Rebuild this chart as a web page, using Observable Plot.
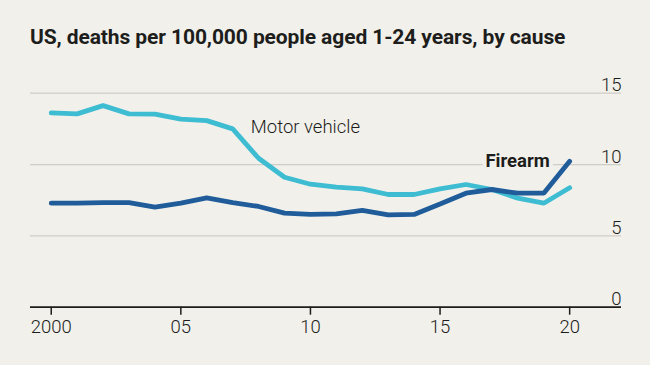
<!DOCTYPE html>
<html>
<head>
<meta charset="utf-8">
<script src="https://cdn.jsdelivr.net/npm/d3@7"></script>
<script src="https://cdn.jsdelivr.net/npm/@observablehq/plot@0.6"></script>
<style>
  html, body { margin: 0; padding: 0; background: #f1f0eb; width: 650px; height: 365px; overflow: hidden; }
  #title { height: 62px; box-sizing: border-box; padding: 26px 0 0 30px; margin: 0;
    font-family: Roboto, sans-serif; font-weight: 700; font-size: 21px; color: #1d1d1b; letter-spacing: -0.1px; line-height: 22px; }
  #chart svg { display: block; }
</style>
</head>
<body>
<div id="title">US, deaths per 100,000 people aged 1-24 years, by cause</div>
<div id="chart"></div>
<script>
const years = d3.range(2000, 2021);
const motorVehicle = [13.62, 13.55, 14.13, 13.55, 13.53, 13.18, 13.08, 12.5, 10.44, 9.11, 8.62, 8.41, 8.3, 7.9, 7.9, 8.3, 8.6, 8.25, 7.64, 7.29, 8.37];
const firearm = [7.29, 7.29, 7.33, 7.33, 7.01, 7.3, 7.66, 7.33, 7.06, 6.59, 6.5, 6.54, 6.78, 6.47, 6.5, 7.24, 7.99, 8.25, 7.99, 7.99, 10.23];
const xTicks = [2000, 2005, 2010, 2015, 2020];
const xTickLabels = ["2000", "05", "10", "15", "20"];
const yTicks = [0, 5, 10, 15];
const seriesNames = ["Motor vehicle", "Firearm"];

const data = [];
years.forEach((yr, i) => {
  data.push({year: yr, value: motorVehicle[i], cause: seriesNames[0]});
  data.push({year: yr, value: firearm[i], cause: seriesNames[1]});
});

const labels = [
  {text: "Motor vehicle", year: 2007.7, value: 12.6, bold: false},
  {text: "Firearm", year: 2016.75, value: 10.25, bold: true}
];

const bg = "#f1f0eb";
const colors = {"Motor vehicle": "#3ebcd2", "Firearm": "#1f5c99"};

const plot = Plot.plot({
  width: 650,
  height: 303,
  marginLeft: 30,
  marginRight: 29,
  marginTop: 30.7,
  marginBottom: 58.3,
  style: {background: bg, fontFamily: "Roboto, sans-serif", color: "#1d1d1b"},
  x: {domain: [1999.2, 2022], axis: null},
  y: {domain: [0, 15], axis: null},
  marks: [
    Plot.ruleY(yTicks.filter(d => d > 0), {stroke: "#cfcdc8", strokeWidth: 1.3}),
    Plot.axisY(yTicks, {anchor: "right", label: null, tickSize: 0, tickPadding: 0, textAnchor: "end", lineAnchor: "bottom", dy: -2, fontSize: 18.5, fontWeight: 300, fill: "#1d1d1b"}),
    Plot.line(data.filter(d => d.cause === "Motor vehicle"), {x: "year", y: "value", stroke: colors["Motor vehicle"], strokeWidth: 4.8, strokeLinejoin: "miter"}),
    Plot.line(data.filter(d => d.cause === "Firearm"), {x: "year", y: "value", stroke: colors["Firearm"], strokeWidth: 4.8, strokeLinejoin: "miter"}),
    Plot.ruleY([0], {stroke: "#1d1d1b", strokeWidth: 1.8}),
    Plot.axisX(xTicks, {anchor: "bottom", label: null, tickSize: 8, tickPadding: 5, strokeWidth: 1.5, stroke: "#1d1d1b", tickFormat: (d, i) => xTickLabels[i], fontSize: 18.5, fontWeight: 300, fill: "#1d1d1b"}),
    Plot.text(labels.filter(d => !d.bold), {x: "year", y: "value", text: "text", textAnchor: "start", fontSize: 18.5, fontWeight: 300, fill: "#1d1d1b"}),
    Plot.text(labels.filter(d => d.bold), {x: "year", y: "value", text: "text", textAnchor: "start", fontSize: 18.5, fontWeight: 700, fill: "#1d1d1b", stroke: bg, strokeWidth: 8, paintOrder: "stroke"})
  ]
});
document.getElementById("chart").appendChild(plot);
</script>
</body>
</html>
